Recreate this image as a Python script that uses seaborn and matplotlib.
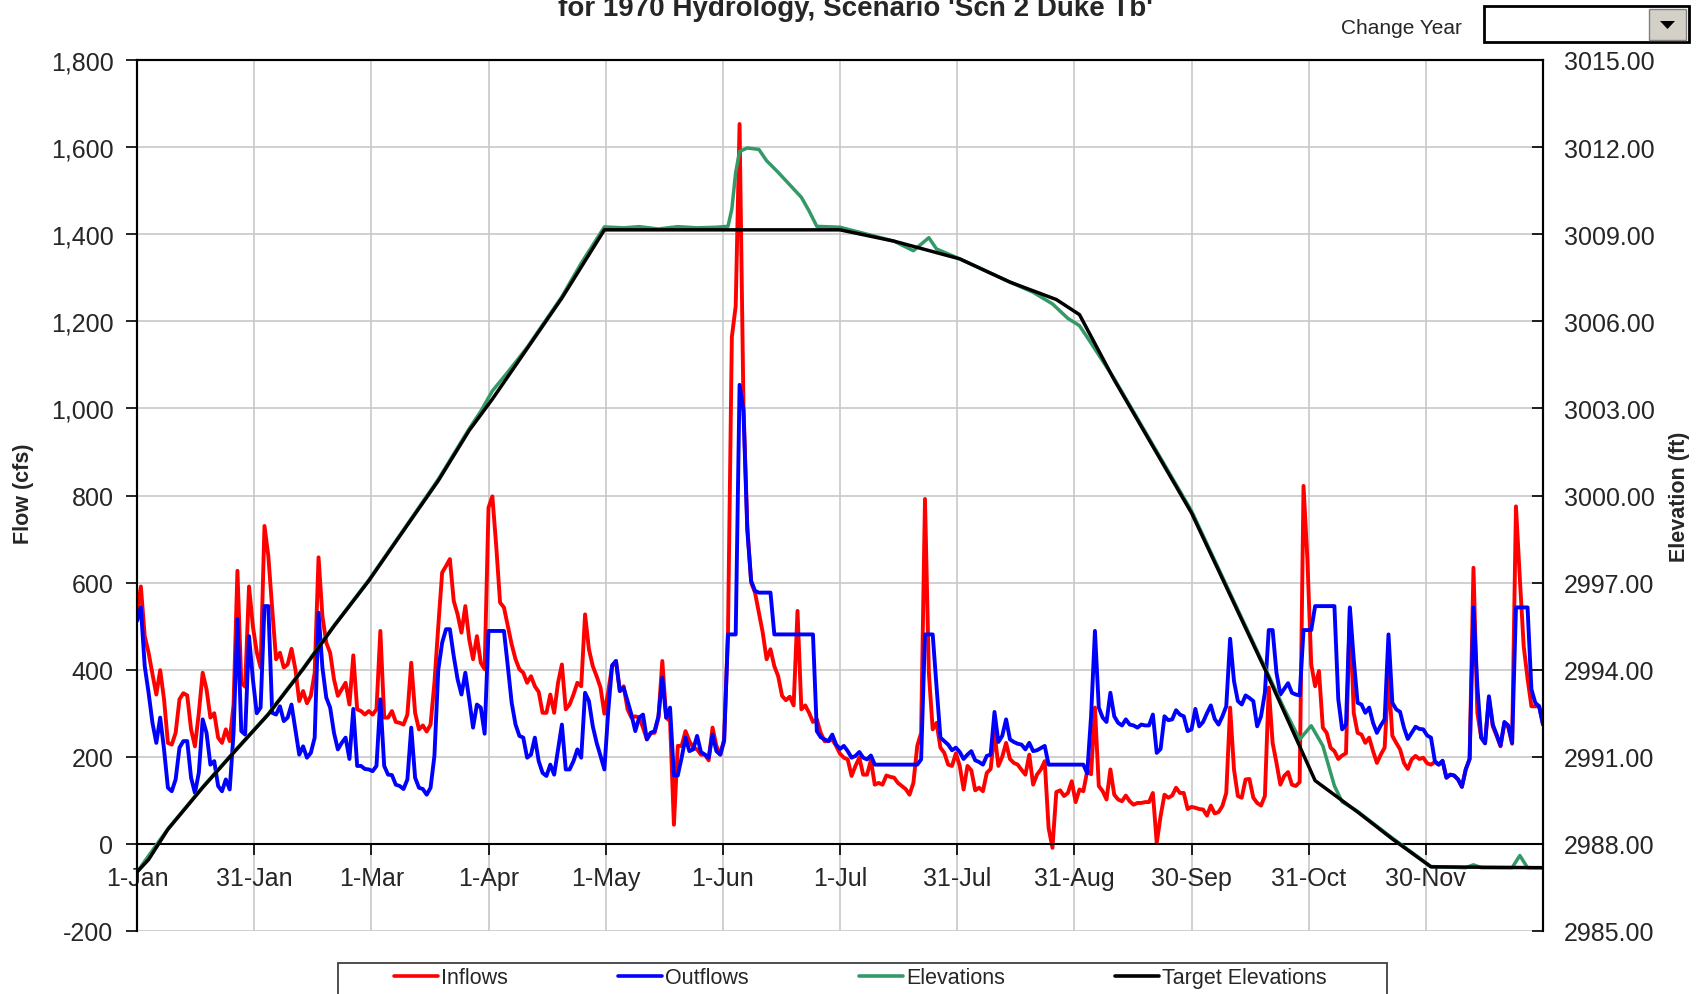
import numpy as np
import pandas as pd
import matplotlib
matplotlib.use("Agg")
import matplotlib.pyplot as plt
from matplotlib.patches import Rectangle, Polygon
from matplotlib.lines import Line2D
from matplotlib.ticker import FuncFormatter
import seaborn as sns

# ----------------------------
# Data (1970, daily)
# ----------------------------
inflows = [
    531, 591, 477, 439, 390, 343, 399, 332, 232, 228,   # 0-9
    255, 332, 346, 341, 263, 224, 300, 393, 355, 290,   # 10-19
    300, 244, 232, 263, 236, 320, 627, 370, 361, 591,   # 20-29
    500, 440, 405, 730, 661, 540, 424, 439, 405, 412,   # 30-39
    448, 401, 328, 351, 323, 340, 393, 658, 523, 462,   # 40-49
    439, 378, 340, 355, 370, 320, 433, 309, 305, 297,   # 50-59
    305, 297, 309, 489, 290, 290, 305, 280, 278, 274,   # 60-69
    297, 416, 301, 263, 272, 258, 274, 370, 500, 623,   # 70-79
    638, 654, 558, 527, 485, 546, 470, 424, 477, 416,   # 80-89
    401, 772, 798, 684, 554, 543, 500, 458, 424, 401,   # 90-99
    393, 370, 385, 362, 349, 301, 301, 343, 301, 370,   # 100-109
    412, 309, 320, 343, 370, 362, 527, 447, 408, 385,   # 110-119
    359, 299, 350, 408, 420, 351, 362, 309, 290, 293,   # 120-129
    290, 267, 240, 255, 255, 290, 420, 290, 282, 44,    # 130-139
    225, 225, 259, 236, 221, 217, 205, 205, 192, 267,   # 140-149
    225, 205, 240, 485, 1164, 1235, 1653, 1010, 730, 600,  # 150-159
    577, 531, 485, 424, 447, 408, 385, 340, 330, 338,   # 160-169
    318, 535, 309, 318, 301, 280, 286, 255, 236, 236,   # 170-179
    240, 225, 207, 198, 194, 156, 179, 198, 159, 159,   # 180-189
    192, 136, 140, 136, 157, 154, 152, 140, 133, 126,   # 190-199
    113, 140, 225, 255, 792, 393, 263, 278, 221, 209,   # 200-209
    182, 179, 208, 179, 125, 179, 169, 123, 129, 121,   # 210-219
    163, 172, 255, 179, 200, 232, 195, 186, 182, 170,   # 220-229
    159, 205, 136, 159, 171, 190, 37, -9, 119, 123,     # 230-239
    110, 117, 144, 96, 125, 121, 167, 160, 313, 133,    # 240-249
    121, 102, 171, 113, 102, 98, 111, 98, 90, 94,       # 250-259
    94, 96, 96, 117, 2, 64, 113, 106, 111, 129,         # 260-269
    117, 117, 80, 85, 83, 80, 79, 65, 88, 70,           # 270-279
    73, 87, 117, 313, 171, 110, 106, 148, 149, 106,     # 280-289
    94, 88, 110, 359, 232, 186, 136, 156, 165, 136,     # 290-299
    133, 142, 822, 654, 412, 362, 397, 267, 255, 221,   # 300-309
    213, 195, 203, 208, 540, 301, 255, 251, 232, 244,   # 310-319
    213, 186, 205, 221, 385, 248, 232, 217, 186, 172,   # 320-329
    194, 202, 195, 198, 185, 182, 188, 182, 190, 152,   # 330-339
    159, 157, 148, 131, 171, 195, 634, 301, 244, 231,   # 340-349
    335, 270, 248, 224, 276, 268, 230, 775, 610, 454,   # 350-359
    380, 316, 316, 316, 274,                             # 360-364
]

outflows = [
    512, 543, 408, 347, 278, 232, 290, 217, 129, 121,
    148, 221, 236, 236, 152, 117, 163, 286, 255, 182,
    190, 133, 121, 148, 125, 255, 516, 259, 251, 477,
    378, 300, 313, 546, 546, 301, 297, 316, 282, 290,
    320, 263, 205, 224, 198, 209, 244, 531, 405, 336,
    313, 255, 217, 232, 244, 195, 310, 179, 179, 172,
    171, 167, 179, 332, 179, 159, 158, 136, 133, 126,
    148, 267, 152, 129, 126, 113, 129, 202, 400, 462,
    493, 493, 431, 378, 343, 393, 332, 267, 320, 313,
    253, 489, 489, 489, 489, 489, 408, 324, 274, 248,
    244, 198, 205, 244, 190, 163, 156, 182, 159, 217,
    274, 171, 171, 190, 217, 198, 347, 328, 270, 232,
    202, 171, 305, 410, 420, 351, 358, 328, 297, 259,
    290, 297, 240, 255, 259, 293, 382, 290, 313, 157,
    157, 198, 244, 213, 217, 248, 211, 205, 198, 251,
    213, 205, 236, 481, 481, 481, 1054, 995, 720, 604,
    581, 577, 577, 577, 577, 481, 481, 481, 481, 481,
    481, 481, 481, 481, 481, 481, 259, 245, 240, 236,
    251, 228, 218, 225, 213, 198, 202, 211, 198, 194,
    203, 182, 182, 182, 182, 182, 182, 182, 182, 182,
    182, 182, 182, 194, 481, 481, 481, 360, 244, 236,
    228, 215, 221, 211, 195, 205, 213, 192, 188, 182,
    202, 205, 303, 234, 248, 286, 240, 234, 230, 228,
    217, 232, 213, 215, 220, 225, 182, 182, 182, 182,
    182, 182, 182, 182, 182, 182, 162, 293, 489, 313,
    290, 280, 347, 293, 278, 272, 286, 274, 272, 267,
    274, 272, 272, 297, 209, 218, 293, 284, 286, 307,
    297, 293, 259, 263, 310, 270, 280, 300, 318, 287,
    274, 293, 316, 471, 374, 328, 320, 341, 335, 328,
    270, 293, 347, 491, 491, 393, 343, 356, 369, 347,
    343, 341, 491, 491, 491, 546, 546, 546, 546, 546,
    546, 332, 263, 274, 543, 424, 324, 320, 301, 313,
    278, 255, 272, 286, 481, 324, 309, 303, 267, 241,
    255, 269, 264, 263, 249, 244, 190, 182, 191, 152,
    159, 157, 148, 131, 171, 195, 543, 362, 244, 231,
    339, 274, 251, 226, 280, 272, 232, 543, 543, 543,
    543, 355, 324, 316, 274,
]

# elevation curves, vertices (day of year, ft)
elev_days = [0, 8, 17, 25, 34, 43, 51, 60, 69, 78, 86, 89, 92, 96, 101, 110,
             115, 121, 126, 130, 135, 140, 145, 150, 153, 154, 155, 156, 158,
             161, 163, 166, 169, 172, 174, 176, 182, 196, 201, 205, 207, 213,
             226, 232, 237, 241, 244, 247, 253, 273, 292, 297, 301, 304, 307,
             310, 312, 316, 325, 335, 344, 346, 348, 356, 358, 360, 364]
elevations = [2987.03, 2988.52, 2989.96, 2991.16, 2992.48, 2994.05, 2995.52,
              2997.09, 2998.82, 3000.56, 3002.30, 3002.90, 3003.60, 3004.25,
              3005.10, 3006.85, 3008.00, 3009.25, 3009.22, 3009.26, 3009.18,
              3009.26, 3009.22, 3009.24, 3009.27, 3009.87, 3011.13, 3011.85,
              3011.97, 3011.92, 3011.53, 3011.13, 3010.70, 3010.27, 3009.80,
              3009.27, 3009.24, 3008.76, 3008.43, 3008.88, 3008.49, 3008.15,
              3007.35, 3007.00, 3006.60, 3006.10, 3005.85, 3005.25, 3004.02,
              2999.47, 2994.08, 2992.65, 2991.60, 2992.07, 2991.38, 2990.00,
              2989.45, 2989.12, 2988.20, 2987.22, 2987.18, 2987.28, 2987.18,
              2987.18, 2987.60, 2987.18, 2987.18]

target_days = [0, 3, 8, 17, 25, 34, 43, 51, 60, 69, 78, 86, 92, 110, 121, 182,
               196, 213, 226, 238, 244, 253, 273, 292, 305, 316, 325, 335, 364]
target_elev = [2987.03, 2987.46, 2988.50, 2989.94, 2991.14, 2992.46, 2994.02,
               2995.50, 2997.06, 2998.79, 3000.51, 3002.24, 3003.32, 3006.80,
               3009.15, 3009.15, 3008.76, 3008.15, 3007.35, 3006.75, 3006.23,
               3003.98, 2999.40, 2994.02, 2990.18, 2989.10, 2988.17, 2987.21,
               2987.18]

month_labels = ["1-Jan", "31-Jan", "1-Mar", "1-Apr", "1-May", "1-Jun",
                "1-Jul", "31-Jul", "31-Aug", "30-Sep", "31-Oct", "30-Nov"]

flow_df = pd.DataFrame({"day": np.arange(len(inflows)),
                        "Inflows": inflows, "Outflows": outflows})
elev_df = pd.DataFrame({"day": elev_days, "Elevations": elevations})
target_df = pd.DataFrame({"day": target_days, "Target": target_elev})

# ----------------------------
# Figure
# ----------------------------
sns.set_style("whitegrid")
plt.rcParams["font.family"] = ["Liberation Sans", "DejaVu Sans"]

W, H = 1703, 995
def fx(px):
    return px / W
def fy(py):
    return 1 - py / H

fig = plt.figure(figsize=(W / 100, H / 100), dpi=100)
ax = fig.add_axes([fx(137), fy(932), fx(1543 - 137), (932 - 61) / H])
ax2 = ax.twinx()

RED, BLUE, GREEN = "#ff0000", "#0000ff", "#339966"

sns.lineplot(data=flow_df, x="day", y="Inflows", ax=ax, color=RED, lw=2.8,
             estimator=None, sort=False, legend=False)
sns.lineplot(data=flow_df, x="day", y="Outflows", ax=ax, color=BLUE, lw=2.8,
             estimator=None, sort=False, legend=False)
sns.lineplot(data=elev_df, x="day", y="Elevations", ax=ax2, color=GREEN,
             lw=2.5, estimator=None, sort=False, legend=False)
sns.lineplot(data=target_df, x="day", y="Target", ax=ax2, color="black",
             lw=2.5, estimator=None, sort=False, legend=False)

# axes ranges / ticks
ax.set_xlim(0, 364)
ax.set_ylim(-200, 1800)
ax2.set_ylim(2985, 3015)
ax.set_xticks([k * 364 / 12 for k in range(12)])
ax.set_xticklabels(month_labels)
ax.set_yticks(np.arange(-200, 1801, 200))
ax2.set_yticks(np.arange(2985, 3015.1, 3))
ax.yaxis.set_major_formatter(FuncFormatter(lambda v, p: f"{v:,.0f}"))
ax2.yaxis.set_major_formatter(FuncFormatter(lambda v, p: f"{v:.2f}"))

ax.grid(True, color="#c8c8c8", lw=1.2)
ax2.grid(False)
ax.set_xlabel("")
ax.set_ylabel("")
ax2.set_ylabel("")

ax.spines["bottom"].set_position(("data", 0))
for s in ["left", "top", "bottom", "right"]:
    ax.spines[s].set_color("black")
    ax.spines[s].set_linewidth(1.5)
ax2.spines["bottom"].set_visible(False)
for s in ["left", "top", "right"]:
    ax2.spines[s].set_color("black")
    ax2.spines[s].set_linewidth(1.5)

ax.tick_params(axis="x", bottom=True, direction="out", length=8, width=1.2,
               color="black", labelsize=18, pad=8)
ax.tick_params(axis="y", left=True, direction="out", length=8, width=1.2,
               color="black", labelsize=18, pad=9)
ax2.tick_params(axis="y", right=True, direction="in", length=8, width=1.2,
                color="black", labelsize=18, pad=15)

# axis titles
fig.text(fx(23), fy(494), "Flow (cfs)", rotation=90, ha="center",
         va="center", fontsize=15.5, fontweight="bold")
fig.text(fx(1679), fy(497), "Elevation (ft)", rotation=90, ha="center",
         va="center", fontsize=15.5, fontweight="bold")

# title (its first line is cut off above the picture in the original)
fig.text(fx(855), fy(16), "for 1970 Hydrology, Scenario 'Scn 2 Duke Tb'",
         ha="center", va="baseline", fontsize=20, fontweight="bold")

# "Change Year" drop-down
fig.text(fx(1462), fy(29), "Change Year", ha="right", va="center",
         fontsize=15)
fig.add_artist(Rectangle((fx(1484), fy(43)), 205 / W, 36 / H,
                         transform=fig.transFigure, fc="white", ec="black",
                         lw=2))
fig.add_artist(Rectangle((fx(1649), fy(41)), 37 / W, 31 / H,
                         transform=fig.transFigure, fc="#d4d0c8",
                         ec="#808080", lw=1))
fig.add_artist(Polygon([[fx(1660), fy(22)], [fx(1675), fy(22)],
                        [fx(1667.5), fy(30)]], closed=True,
                       transform=fig.transFigure, fc="black", ec="none"))

# legend with a box cut by the bottom edge
fig.add_artist(Rectangle((fx(338), fy(1010)), (1387 - 338) / W, (1010 - 964) / H,
                         transform=fig.transFigure, fc="white",
                         ec="#404040", lw=1.3))
handles = [Line2D([], [], color=RED, lw=2.6),
           Line2D([], [], color=BLUE, lw=2.6),
           Line2D([], [], color=GREEN, lw=2.6),
           Line2D([], [], color="black", lw=2.6)]
fig.legend(handles, ["Inflows", "Outflows", "Elevations", "Target Elevations"],
           loc="center left", bbox_to_anchor=(fx(394), fy(979)), ncol=4,
           frameon=False, fontsize=15.5, handlelength=2.05,
           handletextpad=0.15, columnspacing=5.1, borderpad=0,
           borderaxespad=0)

fig.savefig("out.png", dpi=100)
